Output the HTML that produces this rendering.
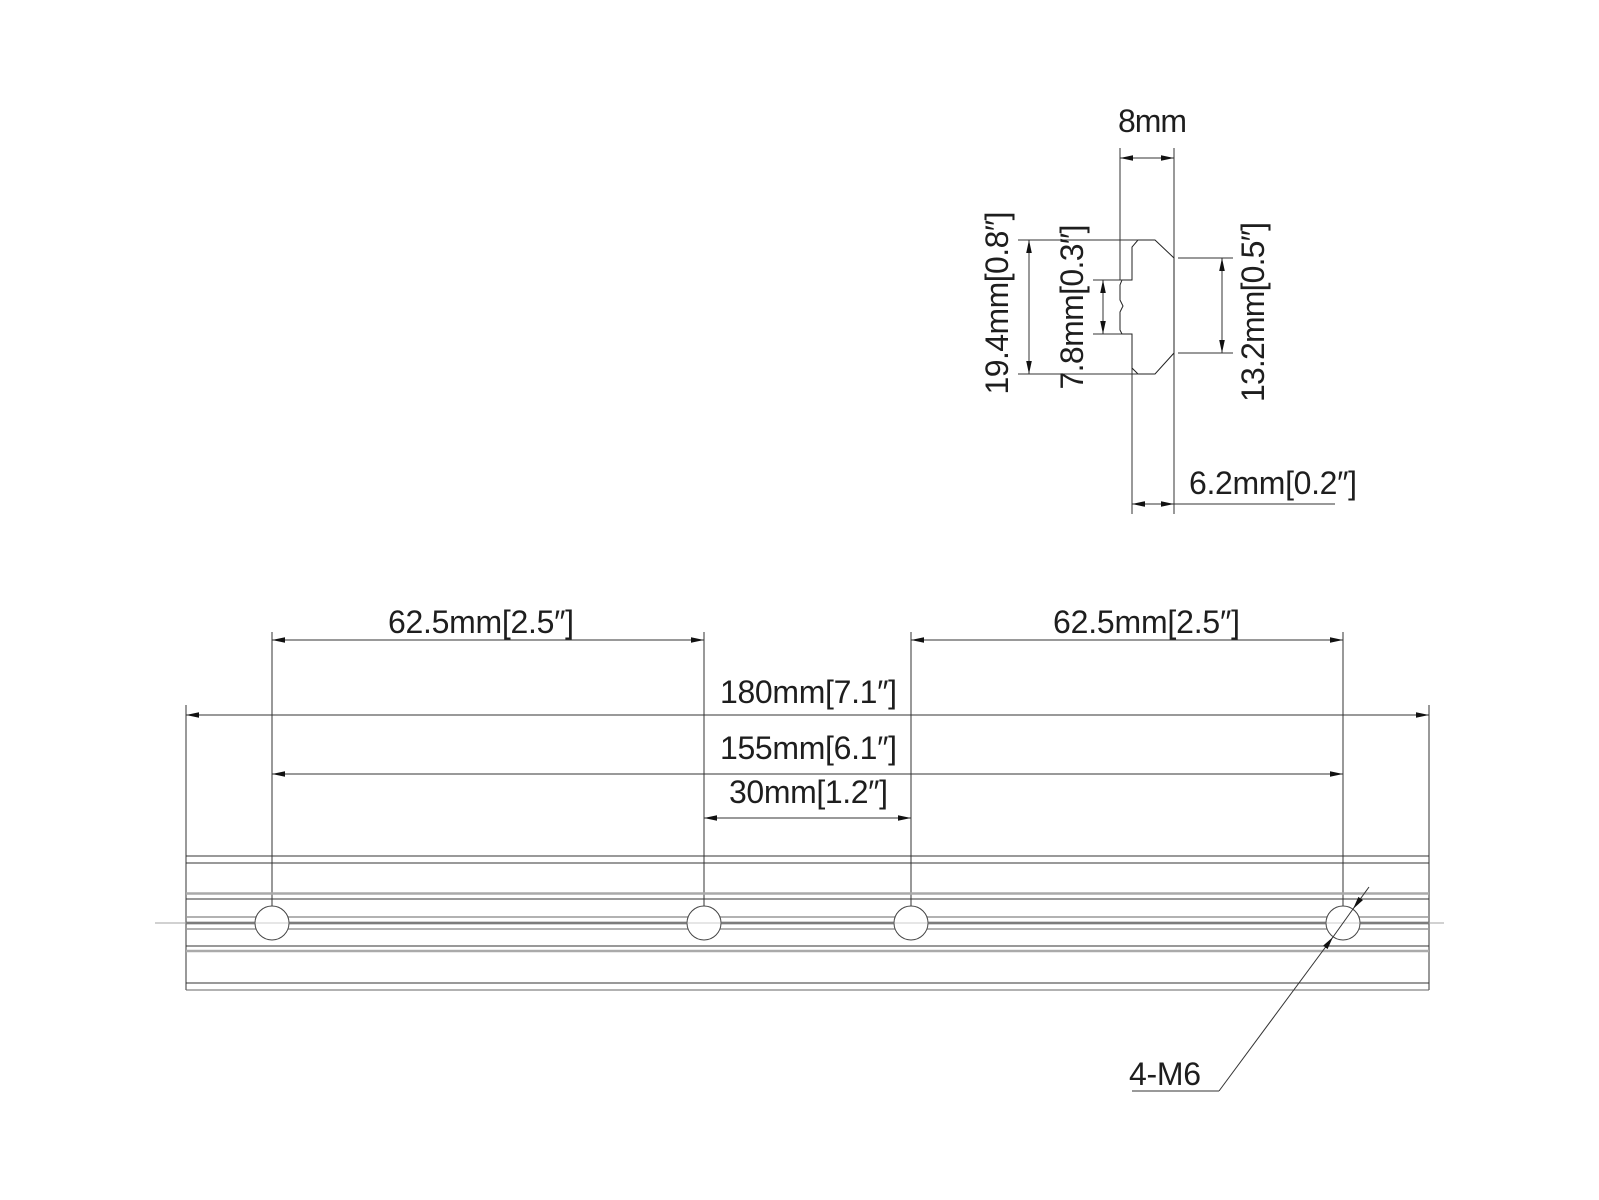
<!DOCTYPE html>
<html><head><meta charset="utf-8"><style>
html,body{margin:0;padding:0;background:#fff;}
svg{display:block;}
text{font-family:"Liberation Sans",Arial,sans-serif;fill:#1e1e1e;font-size:32px;}
</style></head><body>
<svg width="1599" height="1200" viewBox="0 0 1599 1200" xmlns="http://www.w3.org/2000/svg">
<defs>
<marker id="a" markerUnits="userSpaceOnUse" markerWidth="14" markerHeight="8" refX="13" refY="4" orient="auto-start-reverse">
<path d="M0,1.2 L13,4 L0,6.8 Z" fill="#111"/>
</marker>
</defs>
<g stroke="#333" stroke-width="1" fill="none">
<line x1="1120" y1="148" x2="1120" y2="280"/>
<line x1="1174" y1="148" x2="1174" y2="514"/>
<line x1="1120" y1="158" x2="1174" y2="158" marker-start="url(#a)" marker-end="url(#a)"/>
<line x1="1132" y1="334" x2="1132" y2="514"/>
<path d="M1132,280 L1132,247 L1138,240 L1155,240 L1174,258 L1174,353 L1155,374 L1138,374 L1132,368 L1132,334 L1122,334 L1120,330 L1120,312 L1123,306 L1120,300 L1120,285 L1122,280 Z" stroke="#222"/>
<line x1="1018" y1="240" x2="1138" y2="240"/>
<line x1="1018" y1="374" x2="1138" y2="374"/>
<line x1="1029" y1="240" x2="1029" y2="374" marker-start="url(#a)" marker-end="url(#a)"/>
<line x1="1093" y1="280" x2="1122" y2="280"/>
<line x1="1093" y1="334" x2="1122" y2="334"/>
<line x1="1103" y1="280" x2="1103" y2="334" marker-start="url(#a)" marker-end="url(#a)"/>
<line x1="1178" y1="258" x2="1233" y2="258"/>
<line x1="1178" y1="353" x2="1233" y2="353"/>
<line x1="1222" y1="258" x2="1222" y2="353" marker-start="url(#a)" marker-end="url(#a)"/>
<line x1="1132" y1="504" x2="1174" y2="504" marker-start="url(#a)" marker-end="url(#a)"/>
<line x1="1174" y1="504" x2="1335" y2="504"/>

<line x1="272" y1="632" x2="272" y2="918"/>
<line x1="704" y1="632" x2="704" y2="918"/>
<line x1="911" y1="632" x2="911" y2="918"/>
<line x1="1343" y1="632" x2="1343" y2="918"/>
<line x1="186" y1="705" x2="186" y2="990"/>
<line x1="1429" y1="705" x2="1429" y2="990"/>
<line x1="272" y1="640" x2="704" y2="640" marker-start="url(#a)" marker-end="url(#a)"/>
<line x1="911" y1="640" x2="1343" y2="640" marker-start="url(#a)" marker-end="url(#a)"/>
<line x1="186" y1="715" x2="1429" y2="715" marker-start="url(#a)" marker-end="url(#a)"/>
<line x1="272" y1="774" x2="1343" y2="774" marker-start="url(#a)" marker-end="url(#a)"/>
<line x1="704" y1="818" x2="911" y2="818" marker-start="url(#a)" marker-end="url(#a)"/>

<line x1="186" y1="856" x2="1429" y2="856"/>
<line x1="186" y1="863" x2="1429" y2="863"/>
<line x1="186" y1="893.5" x2="1429" y2="893.5" stroke="#aaa" stroke-width="2.5"/>
<line x1="186" y1="899" x2="1429" y2="899"/>
<line x1="186" y1="917" x2="1429" y2="917" stroke="#999" stroke-width="1.5"/>
<line x1="186" y1="929" x2="1429" y2="929" stroke="#999" stroke-width="1.5"/>
<line x1="186" y1="946" x2="1429" y2="946"/>
<line x1="186" y1="951" x2="1429" y2="951" stroke="#aaa" stroke-width="2.5"/>
<line x1="186" y1="983" x2="1429" y2="983"/>
<line x1="186" y1="990" x2="1429" y2="990" stroke="#666"/>
<line x1="186" y1="923" x2="1429" y2="923" stroke="#555" stroke-width="2.5"/>
<line x1="155" y1="923" x2="1444" y2="923" stroke="#999" stroke-width="1"/>
<circle cx="272" cy="923" r="17" fill="#fff" stroke="#444"/>
<circle cx="704" cy="923" r="17" fill="#fff" stroke="#444"/>
<circle cx="911" cy="923" r="17" fill="#fff" stroke="#444"/>
<circle cx="1343" cy="923" r="17" fill="#fff" stroke="#444"/>
<line x1="155" y1="923" x2="1444" y2="923" stroke="#aaa" stroke-width="1" opacity="0.6"/>
<line x1="1369" y1="887" x2="1353" y2="909" marker-end="url(#a)"/>
<line x1="1219" y1="1091" x2="1333" y2="937" marker-end="url(#a)"/>
<line x1="1353" y1="909" x2="1333" y2="937"/>
<line x1="1132" y1="1091" x2="1219" y2="1091"/>
</g>

<text x="1118" y="132" textLength="69">8mm</text>
<text x="1189" y="494" textLength="168">6.2mm[0.2″]</text>
<text transform="translate(997,303) rotate(-90)" text-anchor="middle" dominant-baseline="central" textLength="183">19.4mm[0.8″]</text>
<text transform="translate(1072,307) rotate(-90)" text-anchor="middle" dominant-baseline="central" textLength="165">7.8mm[0.3″]</text>
<text transform="translate(1253,312) rotate(-90)" text-anchor="middle" dominant-baseline="central" textLength="180">13.2mm[0.5″]</text>
<text x="388" y="633" textLength="186">62.5mm[2.5″]</text>
<text x="1053" y="633" textLength="187">62.5mm[2.5″]</text>
<text x="720" y="703" textLength="177">180mm[7.1″]</text>
<text x="720" y="759" textLength="177">155mm[6.1″]</text>
<text x="729" y="803" textLength="159">30mm[1.2″]</text>
<text x="1129" y="1085" textLength="72">4-M6</text>
</svg>
</body></html>
